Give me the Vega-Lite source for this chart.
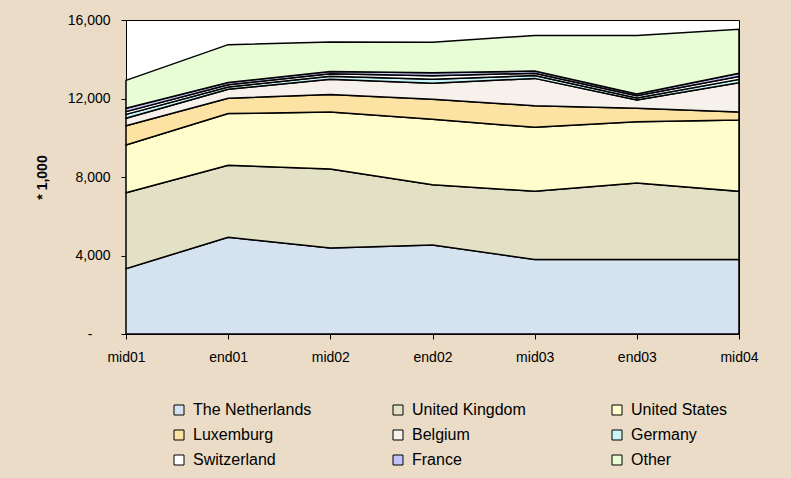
{
  "$schema": "https://vega.github.io/schema/vega-lite/v6.json",
  "width": 613,
  "height": 314,
  "autosize": {"type": "none"},
  "padding": {"left": 126, "top": 20, "right": 52, "bottom": 144},
  "background": "#EADCC6",
  "config": {
    "font": "Liberation Sans",
    "view": {"fill": "white", "stroke": "black", "strokeWidth": 1}
  },
  "data": {
    "values": [
      {"period": "mid01", "country": "The Netherlands", "value": 3330},
      {"period": "end01", "country": "The Netherlands", "value": 4930},
      {"period": "mid02", "country": "The Netherlands", "value": 4380},
      {"period": "end02", "country": "The Netherlands", "value": 4540},
      {"period": "mid03", "country": "The Netherlands", "value": 3800},
      {"period": "end03", "country": "The Netherlands", "value": 3800},
      {"period": "mid04", "country": "The Netherlands", "value": 3800},
      {"period": "mid01", "country": "United Kingdom", "value": 3870},
      {"period": "end01", "country": "United Kingdom", "value": 3670},
      {"period": "mid02", "country": "United Kingdom", "value": 4030},
      {"period": "end02", "country": "United Kingdom", "value": 3070},
      {"period": "mid03", "country": "United Kingdom", "value": 3470},
      {"period": "end03", "country": "United Kingdom", "value": 3895},
      {"period": "mid04", "country": "United Kingdom", "value": 3470},
      {"period": "mid01", "country": "United States", "value": 2430},
      {"period": "end01", "country": "United States", "value": 2630},
      {"period": "mid02", "country": "United States", "value": 2905},
      {"period": "end02", "country": "United States", "value": 3330},
      {"period": "mid03", "country": "United States", "value": 3260},
      {"period": "end03", "country": "United States", "value": 3125},
      {"period": "mid04", "country": "United States", "value": 3635},
      {"period": "mid01", "country": "Luxemburg", "value": 985},
      {"period": "end01", "country": "Luxemburg", "value": 785},
      {"period": "mid02", "country": "Luxemburg", "value": 890},
      {"period": "end02", "country": "Luxemburg", "value": 1020},
      {"period": "mid03", "country": "Luxemburg", "value": 1100},
      {"period": "end03", "country": "Luxemburg", "value": 685},
      {"period": "mid04", "country": "Luxemburg", "value": 410},
      {"period": "mid01", "country": "Belgium", "value": 375},
      {"period": "end01", "country": "Belgium", "value": 460},
      {"period": "mid02", "country": "Belgium", "value": 775},
      {"period": "end02", "country": "Belgium", "value": 815},
      {"period": "mid03", "country": "Belgium", "value": 1395},
      {"period": "end03", "country": "Belgium", "value": 425},
      {"period": "mid04", "country": "Belgium", "value": 1490},
      {"period": "mid01", "country": "Germany", "value": 200},
      {"period": "end01", "country": "Germany", "value": 110},
      {"period": "mid02", "country": "Germany", "value": 150},
      {"period": "end02", "country": "Germany", "value": 200},
      {"period": "mid03", "country": "Germany", "value": 150},
      {"period": "end03", "country": "Germany", "value": 100},
      {"period": "mid04", "country": "Germany", "value": 170},
      {"period": "mid01", "country": "Switzerland", "value": 140},
      {"period": "end01", "country": "Switzerland", "value": 120},
      {"period": "mid02", "country": "Switzerland", "value": 130},
      {"period": "end02", "country": "Switzerland", "value": 190},
      {"period": "mid03", "country": "Switzerland", "value": 110},
      {"period": "end03", "country": "Switzerland", "value": 110},
      {"period": "mid04", "country": "Switzerland", "value": 150},
      {"period": "mid01", "country": "France", "value": 170},
      {"period": "end01", "country": "France", "value": 105},
      {"period": "mid02", "country": "France", "value": 115},
      {"period": "end02", "country": "France", "value": 150},
      {"period": "mid03", "country": "France", "value": 110},
      {"period": "end03", "country": "France", "value": 95},
      {"period": "mid04", "country": "France", "value": 160},
      {"period": "mid01", "country": "Other", "value": 1425},
      {"period": "end01", "country": "Other", "value": 1935},
      {"period": "mid02", "country": "Other", "value": 1505},
      {"period": "end02", "country": "Other", "value": 1550},
      {"period": "mid03", "country": "Other", "value": 1820},
      {"period": "end03", "country": "Other", "value": 2970},
      {"period": "mid04", "country": "Other", "value": 2240}
    ]
  },
  "transform": [
    {"calculate": "indexof(['The Netherlands','United Kingdom','United States','Luxemburg','Belgium','Germany','Switzerland','France','Other'], datum.country)", "as": "stackOrder"}
  ],
  "mark": {"type": "area", "stroke": "black", "strokeWidth": 1.5, "fillOpacity": 1, "strokeJoin": "miter"},
  "encoding": {
    "x": {
      "field": "period",
      "type": "ordinal",
      "sort": ["mid01", "end01", "mid02", "end02", "mid03", "end03", "mid04"],
      "scale": {"type": "point", "padding": 0},
      "axis": {
        "title": null,
        "labelAngle": 0,
        "labelFontSize": 14,
        "labelColor": "black",
        "labelPadding": 11,
        "domainColor": "black",
        "tickColor": "black",
        "tickSize": 5,
        "grid": false
      }
    },
    "y": {
      "field": "value",
      "type": "quantitative",
      "stack": "zero",
      "scale": {"domain": [0, 16000], "nice": false},
      "axis": {
        "title": "* 1,000",
        "titleFontSize": 14,
        "titleFontWeight": "bold",
        "titleColor": "black",
        "titlePadding": 18,
        "values": [0, 4000, 8000, 12000, 16000],
        "labelExpr": "datum.value == 0 ? '-' : format(datum.value, ',')",
        "labelOverlap": false,
        "labelFontSize": 14,
        "labelColor": "black",
        "labelPadding": {"condition": {"test": "datum.value == 0", "value": 29}, "value": 11},
        "domainColor": "black",
        "tickColor": "black",
        "tickSize": 5,
        "grid": false
      }
    },
    "order": {"field": "stackOrder", "type": "quantitative", "sort": "ascending"},
    "color": {
      "field": "country",
      "type": "nominal",
      "sort": ["The Netherlands", "United Kingdom", "United States", "Luxemburg", "Belgium", "Germany", "Switzerland", "France", "Other"],
      "scale": {
        "domain": ["The Netherlands", "United Kingdom", "United States", "Luxemburg", "Belgium", "Germany", "Switzerland", "France", "Other"],
        "range": ["#D5E3F0", "#E3E1C5", "#FFFDCB", "#FDE3A3", "#F6F1EA", "#C8F5F8", "#FFFFFF", "#C2C2F8", "#E8FCD5"]
      },
      "legend": {
        "title": null,
        "orient": "none",
        "legendX": 45,
        "legendY": 382,
        "direction": "horizontal",
        "columns": 3,
        "gridAlign": "all",
        "columnPadding": 78,
        "rowPadding": 9,
        "padding": 0,
        "symbolType": "square",
        "symbolSize": 100,
        "symbolStrokeColor": "black",
        "symbolStrokeWidth": 1,
        "symbolOpacity": 1,
        "symbolOffset": 0,
        "labelOffset": 6,
        "labelFontSize": 16,
        "labelColor": "black",
        "labelLimit": 300
      }
    }
  }
}
